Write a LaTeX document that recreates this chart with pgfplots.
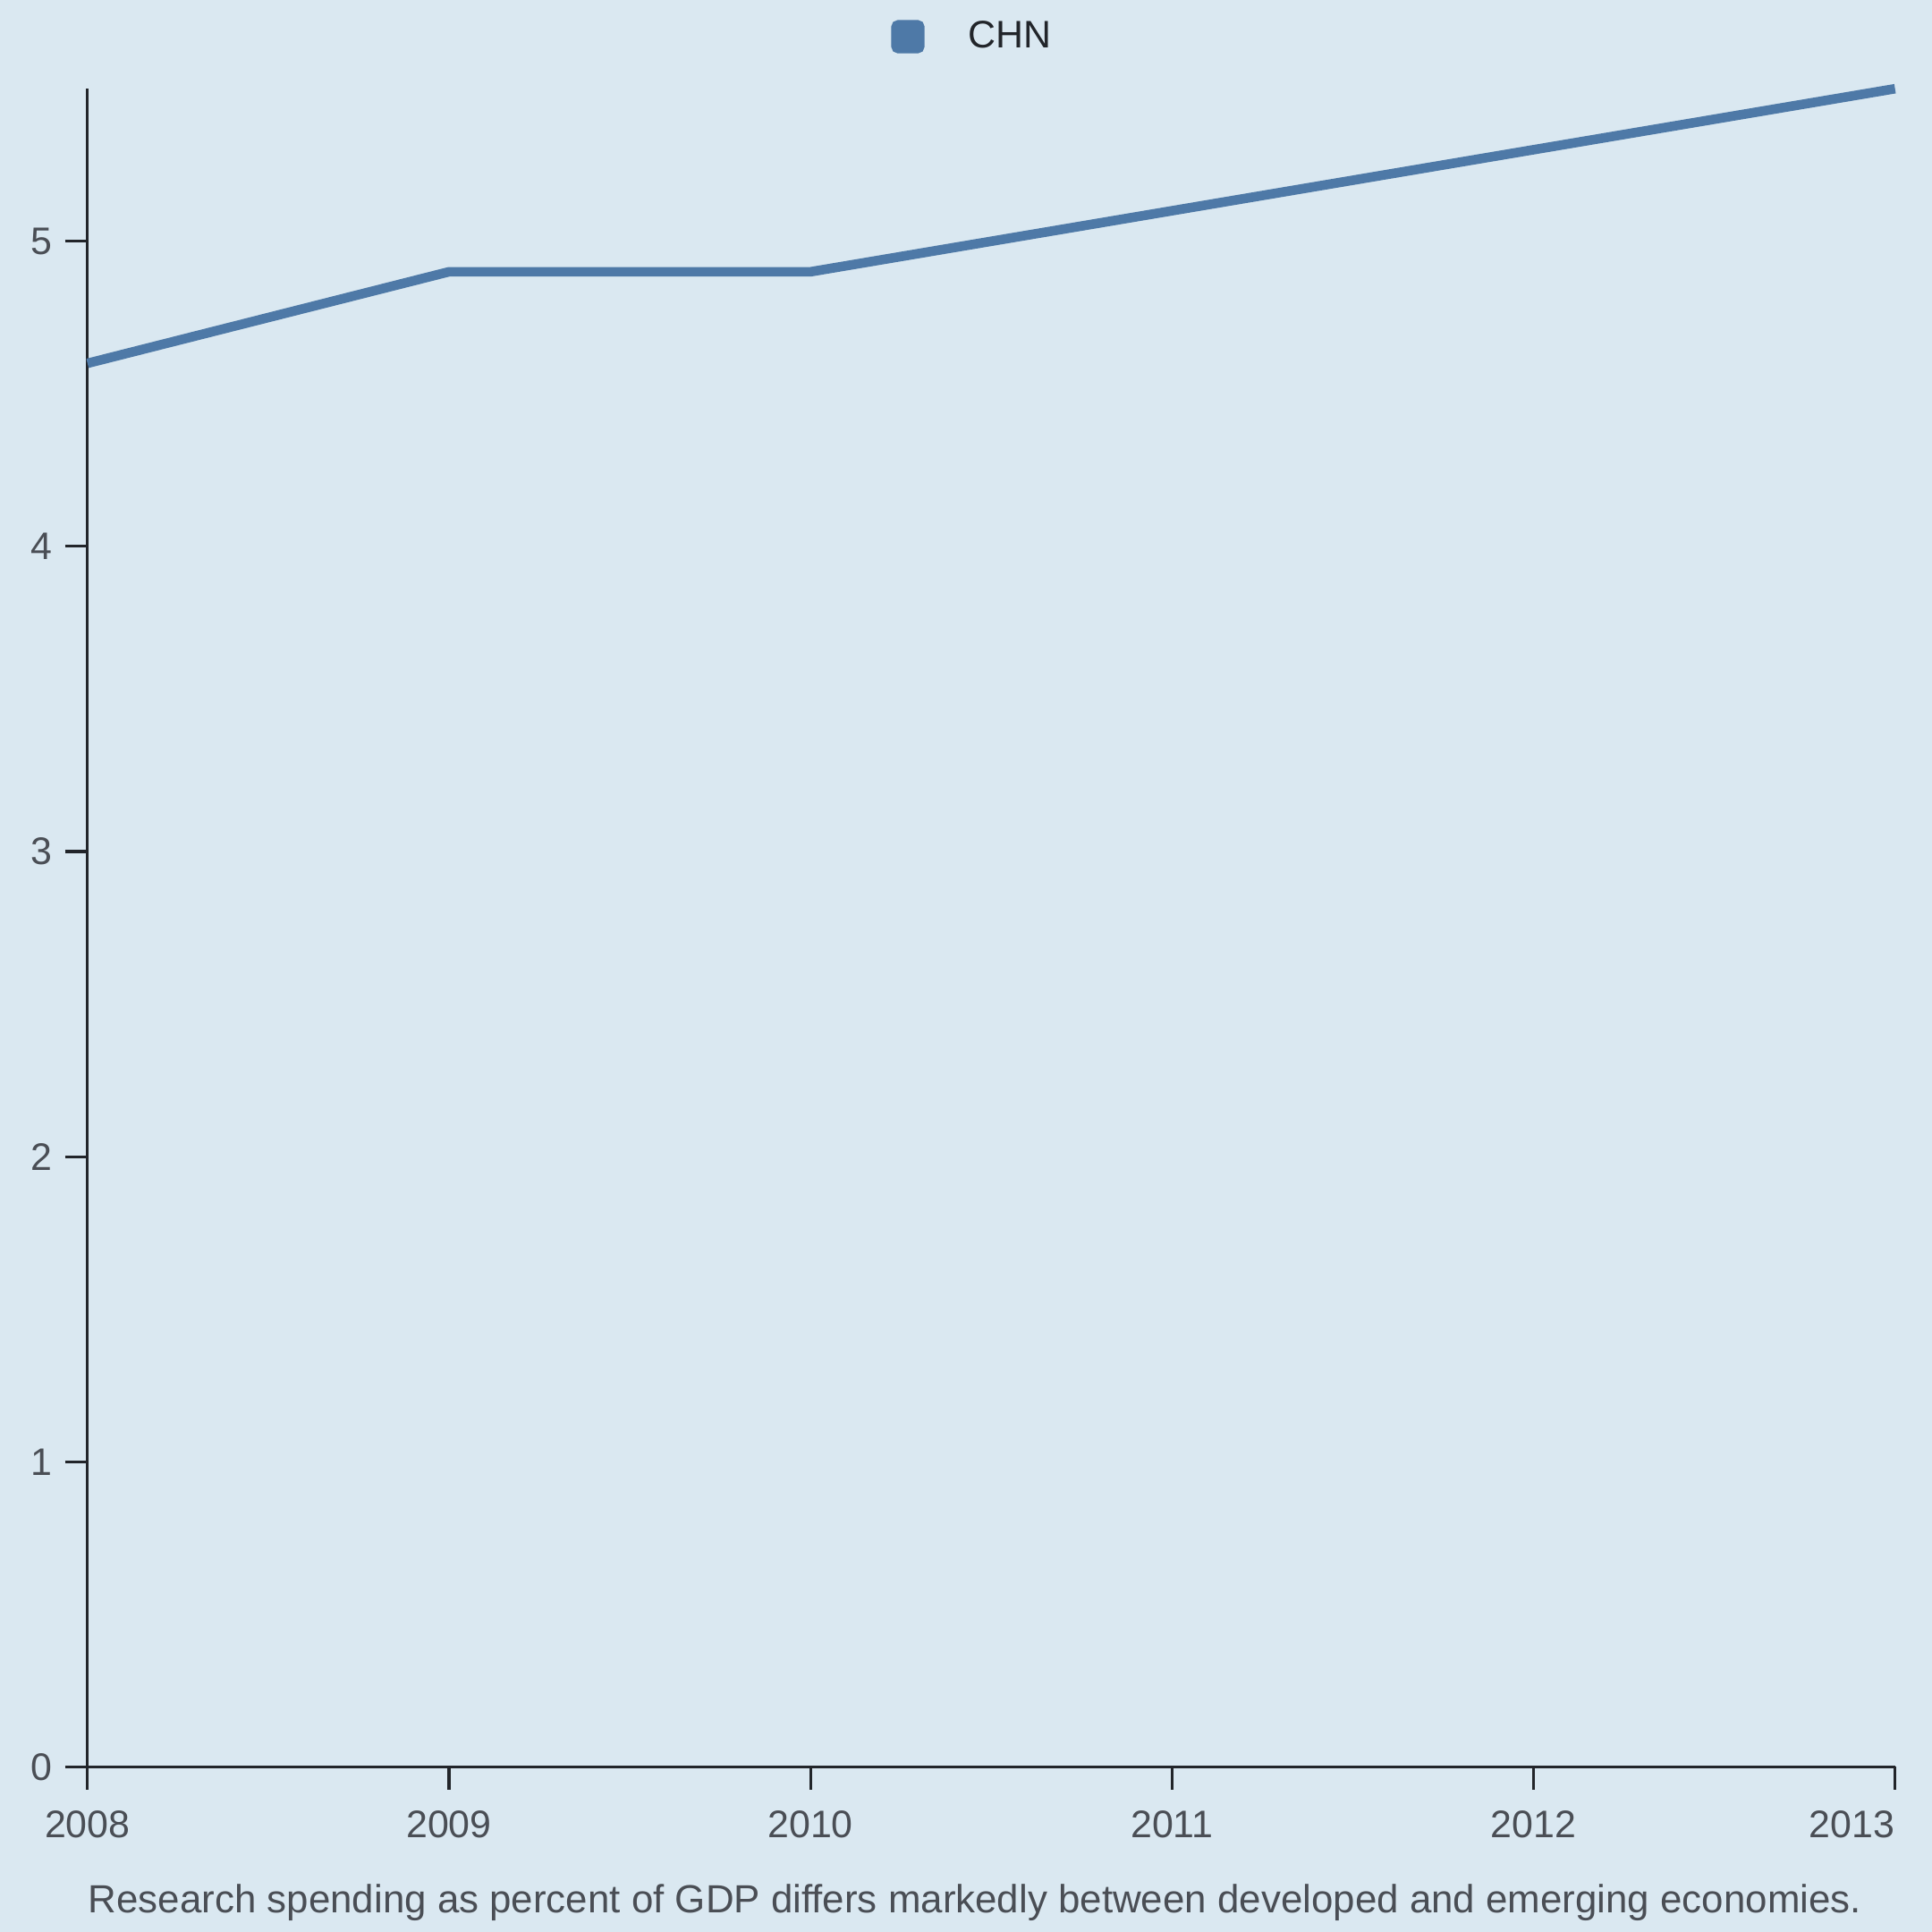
\documentclass[border=0pt]{standalone}
\usepackage{pgfplots}
\pgfplotsset{compat=1.18}
\usepackage{fontspec}
\setmainfont{Liberation Sans}
\definecolor{bg}{HTML}{DAE8F1}
\definecolor{chnblue}{HTML}{4E79A7}
\definecolor{axc}{HTML}{22252A}
\definecolor{txt}{HTML}{4A4E55}
\begin{document}
\begin{tikzpicture}
\fill[bg] (-24.85pt,-46.9pt) rectangle (523.95pt,501.9pt);
\begin{axis}[
  scale only axis,
  width=513.45pt, height=476.7pt,
  xmin=2008, xmax=2013, ymin=0, ymax=5.5,
  axis x line*=bottom, axis y line*=left,
  axis line style={axc, line width=0.8pt},
  tick style={axc, line width=0.8pt},
  tick align=outside,
  major tick length=6.4pt,
  xtick={2008,2009,2010,2011,2012},
  extra x ticks={2013},
  extra x tick style={xticklabel style={anchor=north east, xshift=3.4pt}},
  ytick={0,1,2,3,4,5},
  xticklabel style={font=\fontsize{10.9}{12}\selectfont, text=txt, yshift=-2.5pt},
  yticklabel style={font=\fontsize{10.9}{12}\selectfont, text=txt},
  /pgf/number format/assume math mode=true,
  xticklabel={\pgfmathprintnumber[1000 sep=]{\tick}},
  legend style={at={(0.491,1.031)}, anchor=center, draw=none, fill=none,
    font=\fontsize{10.9}{12}\selectfont, text=axc},
  legend image code/.code={\fill[chnblue, rounded corners=0.8pt] (0pt,-3.4pt) rectangle (6.8pt,3.4pt);},
  clip=false,
]
\addplot[chnblue, line width=2.7pt] coordinates {
  (2008,4.6) (2009,4.9) (2010,4.9) (2011,5.1) (2012,5.3) (2013,5.5)
};
\addlegendentry{\hspace{10.5pt}CHN}
\node[text=txt, font=\fontsize{11.15}{13}\selectfont] at ([yshift=-38.6pt]axis description cs:0.491,0) {Research spending as percent of GDP differs markedly between developed and emerging economies.};
\end{axis}
\pgfresetboundingbox
\path (-24.85pt,-46.9pt) rectangle (523.95pt,501.9pt);
\end{tikzpicture}
\end{document}
